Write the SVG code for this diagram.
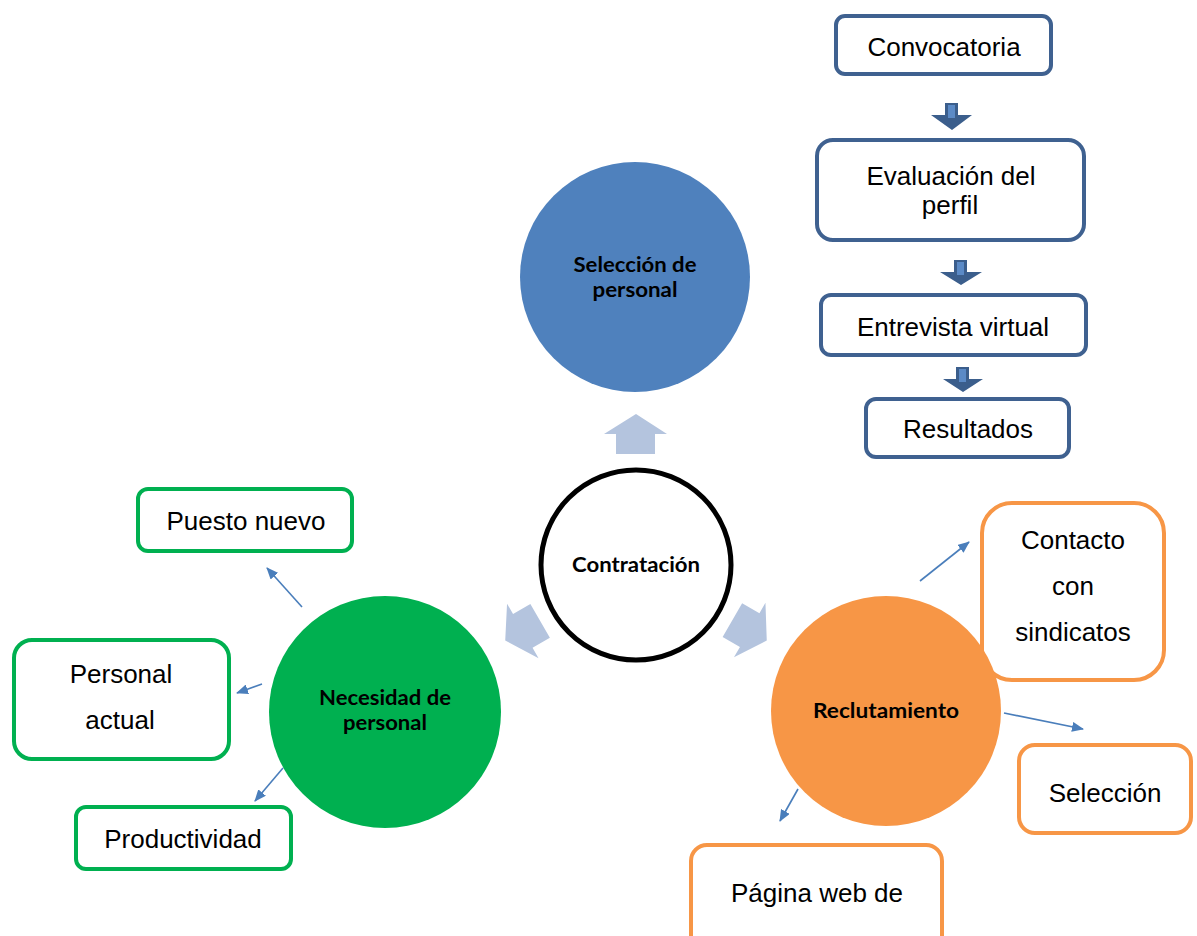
<svg xmlns="http://www.w3.org/2000/svg" width="1197" height="936" viewBox="0 0 1197 936">
<style>
.t{font-family:"Liberation Sans",Arial,sans-serif;font-size:26px;fill:#000;text-anchor:middle}
.b{font-family:Lato,"Open Sans",sans-serif;font-weight:bold;font-size:20px;fill:#000;text-anchor:middle}
.bx{fill:#fff;stroke:#3F6190;stroke-width:4}
.gx{fill:#fff;stroke:#00B050;stroke-width:4}
.ox{fill:#fff;stroke:#F79646;stroke-width:4}
.con{stroke:#4A7EBB;stroke-width:1.6;fill:none;marker-end:url(#ah)}
.big{fill:#B4C4DE}
.da{fill:#3B5E8C}
.di{fill:#5B8AC6}
</style>
<defs>
<marker id="ah" markerWidth="12" markerHeight="10" refX="11" refY="5" orient="auto" markerUnits="userSpaceOnUse">
<path d="M0,0 L12,5 L0,10 Z" fill="#4A7EBB"/>
</marker>
<polygon id="radarrow" points="636,414 667,434 655,434 655,454 616,454 616,434 604,434"/>
</defs>
<rect width="1197" height="936" fill="#fff"/>

<g id="convocatoria">
<rect class="bx" x="836" y="16" width="215" height="58" rx="9"/>
<text class="t" x="944" y="56">Convocatoria</text>
</g>
<g id="evaluacion">
<rect class="bx" x="817" y="140" width="267" height="100" rx="16"/>
<text class="t" x="951" y="185">Evaluación del</text>
<text class="t" x="950" y="214">perfil</text>
</g>
<g id="entrevista">
<rect class="bx" x="821" y="295" width="265" height="60" rx="10"/>
<text class="t" x="953" y="336">Entrevista virtual</text>
</g>
<g id="resultados">
<rect class="bx" x="866" y="399" width="203" height="58" rx="10"/>
<text class="t" x="968" y="438">Resultados</text>
</g>

<g id="flow-arrows">
<polygon class="da" points="945,103 958,103 958,115 972,115 952,130 931,115 945,115"/>
<rect class="di" x="948" y="105" width="7" height="13"/>
<polygon class="da" points="954,260 967,260 967,272 982,272 961,285 940,272 954,272"/>
<rect class="di" x="957" y="262" width="7" height="13"/>
<polygon class="da" points="956,367 969,367 969,379 983,379 963,392 943,379 956,379"/>
<rect class="di" x="959" y="369" width="7" height="13"/>
</g>

<g id="seleccion-personal">
<circle cx="635" cy="277" r="115" fill="#4F81BD"/>
<text class="b" x="635" y="272" textLength="123" lengthAdjust="spacingAndGlyphs">Selección de</text>
<text class="b" x="635" y="297" textLength="85" lengthAdjust="spacingAndGlyphs">personal</text>
</g>

<g id="radial-arrows">
<use href="#radarrow" class="big"/>
<use href="#radarrow" class="big" transform="rotate(120 636 565)"/>
<use href="#radarrow" class="big" transform="rotate(-120 636 565)"/>
</g>

<g id="contratacion">
<circle cx="636" cy="565" r="95" fill="#fff" stroke="#000" stroke-width="5"/>
<text class="b" x="636" y="572" textLength="128" lengthAdjust="spacingAndGlyphs">Contratación</text>
</g>

<g id="puesto-nuevo">
<rect class="gx" x="138" y="489" width="214" height="62" rx="10"/>
<text class="t" x="246" y="530">Puesto nuevo</text>
</g>
<g id="personal-actual">
<rect class="gx" x="14" y="640" width="215" height="119" rx="18"/>
<text class="t" x="121" y="683">Personal</text>
<text class="t" x="120" y="729">actual</text>
</g>
<g id="productividad">
<rect class="gx" x="76" y="807" width="215" height="62" rx="10"/>
<text class="t" x="183" y="848">Productividad</text>
</g>
<g id="necesidad">
<circle cx="385" cy="712" r="116" fill="#00B050"/>
<text class="b" x="385" y="705" textLength="132" lengthAdjust="spacingAndGlyphs">Necesidad de</text>
<text class="b" x="385" y="730" textLength="84" lengthAdjust="spacingAndGlyphs">personal</text>
</g>

<g id="contacto">
<rect class="ox" x="982" y="503" width="182" height="177" rx="30"/>
<text class="t" x="1073" y="549">Contacto</text>
<text class="t" x="1073" y="595">con</text>
<text class="t" x="1073" y="641">sindicatos</text>
</g>
<g id="seleccion">
<rect class="ox" x="1019" y="745" width="172" height="88" rx="16"/>
<text class="t" x="1105" y="802">Selección</text>
</g>
<g id="pagina">
<rect class="ox" x="691" y="845" width="251" height="110" rx="16"/>
<text class="t" x="817" y="902">Página web de</text>
</g>
<g id="reclutamiento">
<circle cx="886" cy="711" r="115" fill="#F79646"/>
<text class="b" x="886" y="718" textLength="146" lengthAdjust="spacingAndGlyphs">Reclutamiento</text>
</g>

<g id="connectors">
<line class="con" x1="302" y1="607" x2="267" y2="568"/>
<line class="con" x1="262" y1="684" x2="237" y2="693"/>
<line class="con" x1="283" y1="768" x2="255" y2="801"/>
<line class="con" x1="920" y1="581" x2="969" y2="542"/>
<line class="con" x1="1004" y1="713" x2="1083" y2="729"/>
<line class="con" x1="798" y1="789" x2="780" y2="821"/>
</g>
</svg>
